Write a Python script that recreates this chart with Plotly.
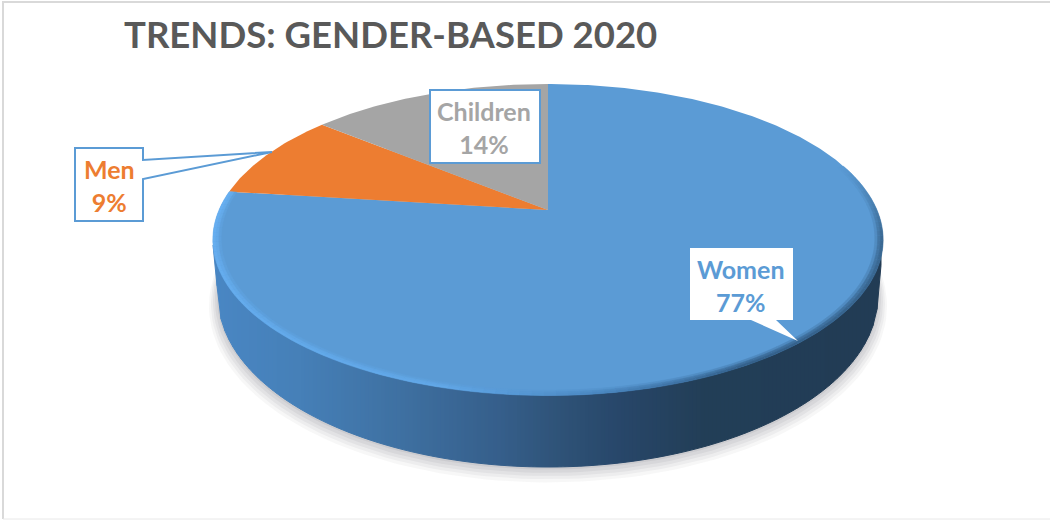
import numpy as np
import plotly.graph_objects as go

# ---- data ----
categories = ["Women", "Men", "Children"]
values = [77, 9, 14]
slice_colors = ["#5b9bd5", "#ed7d31", "#a5a5a5"]
title_text = "TRENDS: GENDER-BASED 2020"

# ---- geometry of the tilted disc (plot units = page pixels) ----
W, H = 1050, 520
CX, APEX_Y, A, B, C = 548.0, 210.0, 329.0, 110.0, -0.191
BOT_CY, BOT_RX, BOT_RY = 296.0, 330.0, 171.0


def disc(theta, r=1.0):
    """theta clockwise from 12 o'clock; perspective projection of the unit disc."""
    u, v = r * np.sin(theta), -r * np.cos(theta)
    d = 1 + C * v
    return CX + A * u / d, (B * v + APEX_Y) / d


def hex_rgb(h):
    return np.array([int(h[i:i + 2], 16) for i in (1, 3, 5)], dtype=float)


def lerp_rgb(stops, t):
    xs = [s[0] for s in stops]
    return np.array([np.interp(t, xs, [hex_rgb(s[1])[i] for s in stops]) for i in range(3)])


def css(rgb):
    return "rgb(%d,%d,%d)" % tuple(rgb)


fig = go.Figure()


def poly(x, y, color, line=None, width=1):
    fig.add_trace(go.Scatter(
        x=list(x), y=list(y), mode="lines", fill="toself", fillcolor=color,
        line=dict(color=line or color, width=width if line else 0),
        hoverinfo="skip", showlegend=False))


# soft ground shadow
for grow, off, alpha in [(9, 10, .05), (7, 8, .06), (5, 6, .07), (3, 4, .08), (1, 2, .09)]:
    t = np.linspace(0, 2 * np.pi, 180)
    poly(CX + (BOT_RX + grow) * np.cos(t), BOT_CY + off + (BOT_RY + grow * .6) * np.sin(t),
         f"rgba(90,90,100,{alpha})")

# side wall, shaded left to right
side_stops = [(213, "#4a87c4"), (300, "#4680b8"), (400, "#3f71a2"), (500, "#365f8b"),
              (560, "#2f5378"), (620, "#28476a"), (700, "#233f58"), (885, "#223c55")]
edges = np.arange(213, 884, 4.0)
for x0, x1 in zip(edges[:-1], edges[1:]):
    xs = np.array([x0, x1])
    dx = np.abs(xs - CX)
    ys = np.where(dx < BOT_RX,
                  BOT_CY + BOT_RY * np.sqrt(np.clip(1 - (dx / BOT_RX) ** 2, 0, 1)),
                  np.interp(dx, [BOT_RX, BOT_RX + 5], [BOT_CY, 245]))
    col = css(lerp_rgb(side_stops, (x0 + x1) / 2))
    poly([x0, x1, x1, x0], [240, 240, ys[1], ys[0]], col, line=col, width=1)

# slices on the top face, from the values
fractions = np.array(values) / sum(values)
starts = np.concatenate([[0], np.cumsum(fractions)[:-1]]) * 2 * np.pi
ends = np.cumsum(fractions) * 2 * np.pi
for s, e, col in zip(starts, ends, slice_colors):
    th = np.linspace(s, e, max(8, int((e - s) * 90)))
    px, py = disc(th)
    poly(np.r_[CX, px, CX], np.r_[APEX_Y, py, APEX_Y], col)

# soft bevel along the rim of the largest slice
rim_stops = [(72, "#5b9bd5"), (100, "#3c6a94"), (150, "#34608a"), (172, "#4a86bf"),
             (195, "#62a8e8"), (277, "#68b0f2")]
face = hex_rgb(slice_colors[0])
rim = np.linspace(np.radians(72), ends[0], 120)
rim_deg = np.degrees(rim)
bands = [(.976, .984, .3), (.984, .992, .75), (.992, 1.0, 1.0)]
for i in range(len(rim) - 1):
    base = lerp_rgb(rim_stops, (rim_deg[i] + rim_deg[i + 1]) / 2)
    for r0, r1, mix in bands:
        col = css(face + (base - face) * mix)
        ox, oy = disc(rim[i:i + 2], r1)
        ix, iy = disc(rim[i:i + 2], r0)
        poly([ox[0], ox[1], ix[1], ix[0]], [oy[0], oy[1], iy[1], iy[0]], col, line=col, width=.5)

# ---- furniture ----
BLUE = "#5b9bd5"
shapes = [
    dict(type="line", x0=3, x1=3, y0=1, y1=519, line=dict(color="#d9d9d9", width=2)),
    dict(type="line", x0=3, x1=1050, y0=2, y1=2, line=dict(color="#d9d9d9", width=2)),
    dict(type="line", x0=3, x1=1050, y0=519, y1=519, line=dict(color="#e8e8e8", width=1)),
    dict(type="path", path="M75,148 L143,148 L143,160 L272,152 L143,179 L143,221 L75,221 Z",
         fillcolor="white", line=dict(color=BLUE, width=2)),
    dict(type="rect", x0=430, x1=540, y0=90, y1=163,
         fillcolor="white", line=dict(color=BLUE, width=2)),
    dict(type="path", path="M690,248 L793,248 L793,320 L776,320 L798,341 L751,320 L690,320 Z",
         fillcolor="white", line=dict(width=0)),
]
for s in shapes:
    s.update(xref="x", yref="y")


def label(i, x, y):
    color = slice_colors[i]
    fig.add_annotation(x=x, y=y, xref="x", yref="y", showarrow=False, align="center",
                       text=f"<b>{categories[i]}</b><br><b>{values[i]}%</b>",
                       font=dict(family="Lato, Carlito, sans-serif", size=25, color=color))


label(0, 741, 285)
label(1, 109, 185)
label(2, 484, 127)

fig.add_annotation(x=122, y=34, xref="x", yref="y", xanchor="left", showarrow=False,
                   text=f"<b>{title_text}</b>",
                   font=dict(family="Lato, Carlito, sans-serif", size=36.5, color="#595959"))

fig.update_layout(
    width=W, height=H, margin=dict(l=0, r=0, t=0, b=0),
    paper_bgcolor="white", plot_bgcolor="white", showlegend=False, shapes=shapes,
    xaxis=dict(range=[0, W], visible=False, fixedrange=True),
    yaxis=dict(range=[H, 0], visible=False, fixedrange=True),
)
fig.write_html("out.html", config=dict(displayModeBar=False),
               post_script="document.body.style.margin='0';document.body.style.overflow='hidden';")
